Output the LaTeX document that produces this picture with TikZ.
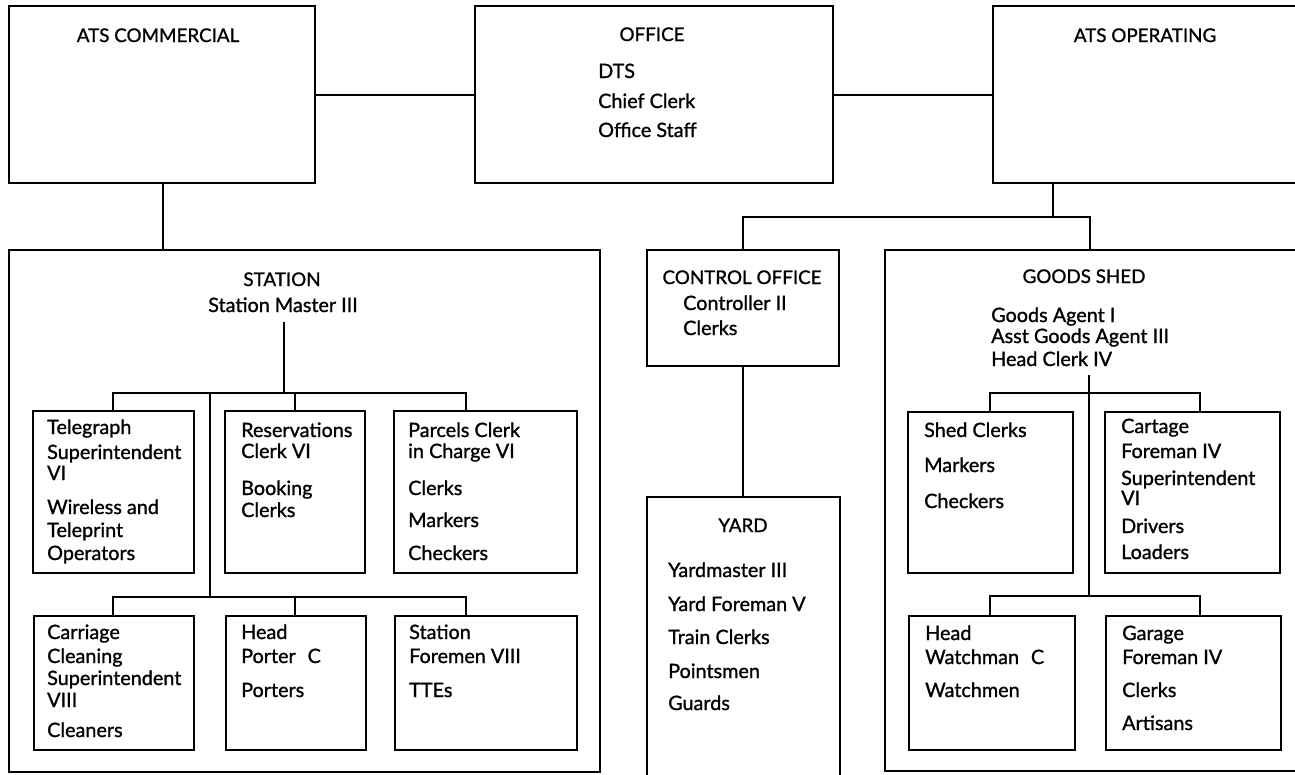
\documentclass[tikz,border=0pt]{standalone}
\usepackage{fontspec}
\setmainfont{Lato}[FakeBold=1.1]
\newcommand\bx[5]{\node[box, minimum width={#4pt-#2pt}, minimum height={#5pt-#3pt}] (#1) at (#2,#3) {};}
\newcommand\tl[3]{\foreach \yy/\ll [count=\i] in {#3} {\node[lbl, anchor=base west] (#1\i) at (#2,\yy) {\ll};}}
\begin{document}
\begin{tikzpicture}[x=1pt,y=-1pt,
  box/.style={draw, line width=2pt, inner sep=0pt, outer sep=0pt, anchor=north west},
  lbl/.style={inner sep=0pt, font=\fontsize{19.8}{22}\selectfont},
  hd/.style={inner sep=0pt, anchor=base, font=\fontsize{18.8}{22}\selectfont},
  ln/.style={line width=2pt}]
\useasboundingbox (0,0) rectangle (1295,774);
\fill[white] (0,0) rectangle (1295,774);
\clip (0,0) rectangle (1295,774);
% boxes
\bx{comm}{9}{6}{315}{183}
\bx{office}{475}{6}{833}{183}
\bx{oper}{993}{6}{1320}{183}
\bx{station}{9}{250}{600}{772}
\bx{ctrl}{647}{250}{839}{366}
\bx{yard}{647}{497}{840}{800}
\bx{goods}{885}{250}{1320}{771}
\bx{A}{33}{411}{194}{573}
\bx{B}{225}{411}{365}{573}
\bx{C}{394}{411}{577}{573}
\bx{D}{34}{616}{194}{750}
\bx{E}{226}{616}{366}{750}
\bx{F}{395}{616}{577}{750}
\bx{G}{908}{412}{1073}{573}
\bx{H}{1105}{412}{1280}{573}
\bx{I}{909}{616}{1075}{750}
\bx{J}{1106}{616}{1281}{750}
% top texts
\node[hd] (tcomm) at (158,42) {ATS COMMERCIAL};
\node[hd] (toff) at (652,41) {OFFICE};
\tl{off}{598}{78/DTS, 108/Chief Clerk, 137/Office Staff}
\node[hd] (toper) at (1145,42) {ATS OPERATING};
% station
\node[hd] (tsta) at (282,286) {STATION};
\node[lbl, anchor=base] (tsm) at (283,312) {Station Master III};
\tl{a}{47}{434/Telegraph, 459/Superintendent, 480/VI, 514/Wireless and, 537/Teleprint, 560/Operators}
\tl{b}{241}{437/Reservations, 458/Clerk VI, 495/Booking, 517/Clerks}
\tl{c}{408}{437/Parcels Clerk, 458/in Charge VI, 495/Clerks, 527/Markers, 560/Checkers}
\tl{d}{47}{639/Carriage, 663/Cleaning, 685/Superintendent, 707/VIII, 737/Cleaners}
\tl{e}{241}{639/Head, 663/Porter\hspace{0.6em}C, 697/Porters}
\tl{f}{409}{639/Station, 663/Foremen VIII, 697/TTEs}
% control + yard
\node[hd] (tctl) at (742,284) {CONTROL OFFICE};
\tl{ctl}{683}{310/Controller II, 335/Clerks}
\node[hd] (tyard) at (743,532) {YARD};
\tl{yd}{668}{577/Yardmaster III, 611/Yard Foreman V, 644/Train Clerks, 678/Pointsmen, 710/Guards}
% goods
\node[hd] (tgoods) at (1084,283) {GOODS SHED};
\tl{gs}{991}{322/Goods Agent I, 343/Asst Goods Agent III, 366/Head Clerk IV}
\tl{g}{924}{437/Shed Clerks, 472/Markers, 508/Checkers}
\tl{h}{1121}{433/Cartage, 458/Foreman IV, 485/Superintendent, 505/VI, 533/Drivers, 559/Loaders}
\tl{i}{925}{640/Head, 664/Watchman\hspace{0.6em}C, 697/Watchmen}
\tl{j}{1122}{640/Garage, 664/Foreman IV, 697/Clerks, 730/Artisans}
% connectors
\draw[ln] (comm.east) -- (office.west);
\draw[ln] (office.east) -- (oper.west);
\coordinate (c1) at (163,183);
\draw[ln] (c1) -- (c1 |- station.north);
\coordinate (o1) at (1053,183);
\coordinate (g1) at (1090,217);
\draw[ln] (o1) -- (o1 |- g1);
\draw[ln] (ctrl.north) |- (g1) -- (g1 |- goods.north);
\draw[ln] (ctrl.south) -- (ctrl.south |- yard.north);
% station tree
\coordinate (s0) at (284,322);
\coordinate (s1) at (284,393);
\coordinate (sl) at (113,393);
\coordinate (sm) at (295,393);
\coordinate (sr) at (466,393);
\coordinate (st) at (210,393);
\coordinate (sb) at (210,597);
\coordinate (bl) at (113,597);
\coordinate (bm) at (295,597);
\coordinate (br) at (466,597);
\draw[ln] (s0) -- (s1);
\draw[ln] (sl |- A.north) -- (sl) -- (sr) -- (sr |- C.north);
\draw[ln] (sm) -- (sm |- B.north);
\draw[ln] (st) -- (sb);
\draw[ln] (bl |- D.north) -- (bl) -- (br) -- (br |- F.north);
\draw[ln] (bm) -- (bm |- E.north);
% goods tree
\coordinate (q0) at (1089,375);
\coordinate (ql) at (990,393);
\coordinate (qr) at (1200,393);
\coordinate (qb) at (1089,596);
\coordinate (pl) at (990,596);
\coordinate (pr) at (1200,596);
\draw[ln] (q0) -- (qb);
\draw[ln] (ql |- G.north) -- (ql) -- (qr) -- (qr |- H.north);
\draw[ln] (pl |- I.north) -- (pl) -- (pr) -- (pr |- J.north);
\end{tikzpicture}
\end{document}
